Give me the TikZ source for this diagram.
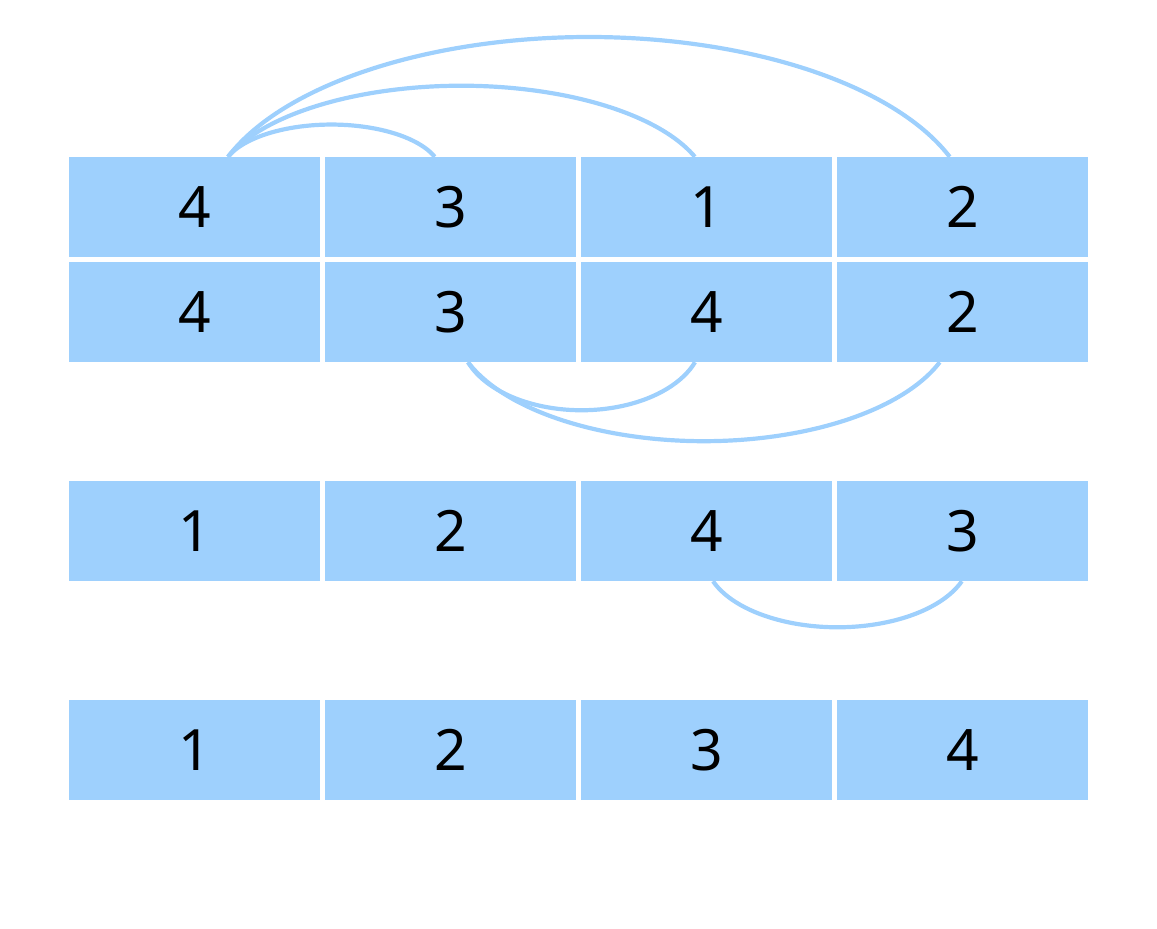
\documentclass[tikz,border=0pt]{standalone}
\usepackage{fontspec}
\setmainfont{Noto Sans}
\usetikzlibrary{calc,backgrounds}
\definecolor{cellblue}{RGB}{158,208,253}
\tikzset{
  cell/.style={fill=cellblue, minimum width=251pt, minimum height=100pt, inner sep=0pt, font=\fontsize{57}{60}\selectfont, text=black},
  link/.style={draw=cellblue, line width=4.2pt}
}
\begin{document}
\begin{tikzpicture}[x=1pt,y=1pt]
\useasboundingbox (0,0) rectangle (1157,-929);
% rows
\foreach \r/\y/\a/\b/\c/\d in {1/207/4/3/1/2, 2/312/4/3/4/2, 3/531/1/2/4/3, 4/750/1/2/3/4}{
  \node[cell] (r\r c1) at (194.5,-\y) {\a};
  \node[cell] (r\r c2) at (450.5,-\y) {\b};
  \node[cell] (r\r c3) at (706.5,-\y) {\c};
  \node[cell] (r\r c4) at (962.5,-\y) {\d};
}
\begin{pgfonlayer}{background}
% top arcs from row 1, column 1
\draw[link] ($(r1c1.north)+(33.5,0)$) arc[start angle=160, end angle=20, x radius=110pt, y radius=49pt];
\draw[link] ($(r1c1.north)+(33.5,0)$) arc[start angle=160, end angle=20, x radius=248.4pt, y radius=108pt];
\draw[link] ($(r1c1.north)+(33.5,0)$) arc[start angle=160, end angle=20, x radius=384pt, y radius=182pt];
% bottom arcs from row 2, column 2
\draw[link] ($(r2c2.south)+(17.5,0)$) arc[start angle=200, end angle=340, x radius=120.8pt, y radius=73pt];
\draw[link] ($(r2c2.south)+(17.5,0)$) arc[start angle=200, end angle=340, x radius=251pt, y radius=120pt];
% bottom arc from row 3, column 3
\draw[link] ($(r3c3.south)+(6.5,0)$) arc[start angle=200, end angle=340, x radius=132.4pt, y radius=70pt];
\end{pgfonlayer}
\end{tikzpicture}
\end{document}
